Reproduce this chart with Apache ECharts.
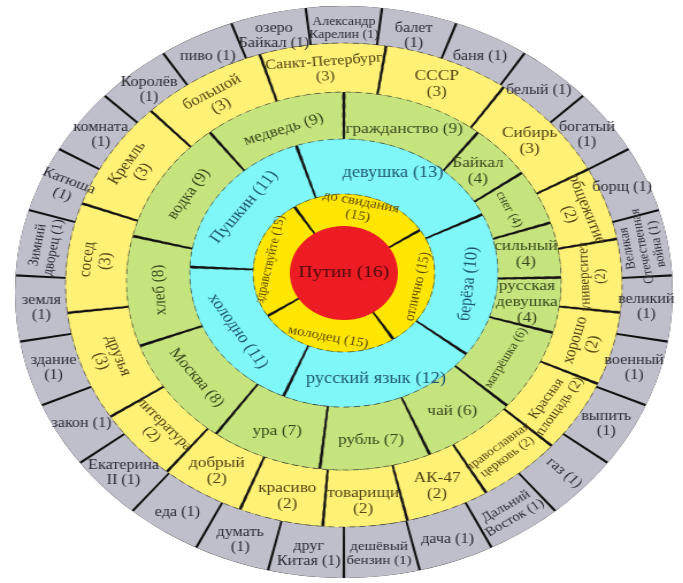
<!DOCTYPE html>
<html>
<head>
<meta charset="utf-8">
<script src="https://cdn.jsdelivr.net/npm/echarts@6.0.0/dist/echarts.min.js"></script>
<style>
  html, body { margin: 0; padding: 0; background: #fff; overflow: hidden; }
  /* исходная картинка растянута по горизонтали */
  #main { width: 594px; height: 583px; transform: scaleX(1.15); transform-origin: 0 0; }
</style>
</head>
<body>
<div id="main"></div>
<script>
// центр
const centerName = 'Путин';
const centerValue = 16;

// кольцо 1
const ring1Names = ['до свидания', 'отлично', 'молодец', 'здравствуйте'];
const ring1Values = [15, 15, 15, 15];

// кольцо 2
const ring2Names = ['девушка', 'берёза', 'русский язык', 'холодно', 'Пушкин'];
const ring2Values = [13, 10, 12, 11, 11];

// кольцо 3
const ring3Names = ['гражданство', 'Байкал', 'снег', 'сильный', 'русская\nдевушка', 'матрёшка', 'чай',
  'рубль', 'ура', 'Москва', 'хлеб', 'водка', 'медведь'];
const ring3Values = [9, 4, 4, 4, 4, 6, 6, 7, 7, 8, 8, 9, 9];

// кольцо 4
const ring4Names = ['Санкт-Петербург', 'СССР', 'Сибирь', 'общежитие', 'университет', 'хорошо',
  'Красная\nплощадь', 'православная\nцерковь', 'АК-47', 'товарищи', 'красиво', 'добрый',
  'литература', 'друзья', 'сосед', 'Кремль', 'большой'];
const ring4Values = [3, 3, 3, 2, 2, 2, 2, 2, 2, 2, 2, 2, 2, 3, 3, 3, 3];

// кольцо 5
const ring5Names = ['Александр\nКарелин', 'балет', 'баня', 'белый', 'богатый', 'борщ',
  'Великая\nОтечественная\nвойна', 'великий', 'военный', 'выпить', 'газ', 'Дальний\nВосток', 'дача',
  'дешёвый\nбензин', 'друг\nКитая', 'думать', 'еда', 'Екатерина\nII', 'закон', 'здание', 'земля',
  'Зимний\nдворец', 'Катюша', 'комната', 'Королёв', 'пиво', 'озеро\nБайкал'];
const ring5Values = [1, 1, 1, 1, 1, 1, 1, 1, 1, 1, 1, 1, 1, 1, 1, 1, 1, 1, 1, 1, 1, 1, 1, 1, 1, 1, 1];

const CX = 299;
const RAD = Math.PI / 180;

// поворот подписи: по касательной или по радиусу
function rotation(mode, compass) {
  if (mode === 'flat') return 0;
  let a = mode === 'rad' ? 90 - compass : -compass;
  while (a <= -78) a += 180;
  while (a > 102) a -= 180;
  return a;
}

function ring(names, values, opt) {
  const total = values.reduce((s, v) => s + v, 0);
  const below = opt.below || [];
  const text = (name, v) => name + (below.includes(name) ? '\n' : ' ') + '(' + v + ')';
  const rMid = (opt.radius[0] + opt.radius[1]) / 2;
  const thick = opt.radius[1] - opt.radius[0];
  let acc = 0;
  const data = names.map((name, i) => {
    const mid = 90 - opt.start + (acc + values[i] / 2) / total * 360;
    acc += values[i];
    let mode = opt.mode;
    if ((opt.flat || []).includes(name)) mode = 'flat';
    if ((opt.tan || []).includes(name)) mode = 'tan';
    if ((opt.rad || []).includes(name)) mode = 'rad';
    // чуть уменьшаем шрифт, если подпись не помещается в свой сектор
    const arc = rMid * values[i] / total * 2 * Math.PI;
    let room;
    if (mode === 'tan') room = arc * 1.15;
    else if (mode === 'rad') room = thick * 1.1;
    else room = (arc * Math.abs(Math.cos(mid * RAD)) + thick * Math.abs(Math.sin(mid * RAD))) * 1.1;
    const longest = Math.max(...text(name, values[i]).split('\n').map(s => s.length));
    let size = opt.size;
    if (longest * size * 0.52 > room) size = Math.max(12, Math.floor(room / (longest * 0.52)));
    return {
      name: name, value: values[i],
      label: { rotate: rotation(mode, mid), fontSize: size, lineHeight: size + 1 }
    };
  });
  const common = {
    type: 'pie', center: [CX, opt.cy], radius: opt.radius, startAngle: opt.start,
    avoidLabelOverlap: false, labelLine: { show: false }, emphasis: { disabled: true },
    labelLayout: { hideOverlap: false }
  };
  return [
    // чёрная подложка — видна в зазорах как разделители
    Object.assign({}, common, {
      silent: true, label: { show: false }, itemStyle: { color: '#111' },
      data: [{ name: '', value: 1 }]
    }),
    Object.assign({}, common, {
      padAngle: opt.pad,
      itemStyle: opt.dashed
        ? { color: opt.color, borderColor: 'rgba(40,40,40,0.5)', borderWidth: 1, borderType: [5, 4] }
        : { color: opt.color },
      label: {
        show: true, position: 'inside', color: opt.text,
        fontFamily: 'Liberation Serif', fontSize: opt.size, lineHeight: opt.size + 1,
        formatter: p => text(p.name, p.value)
      },
      data: data
    })
  ];
}

const series = [].concat(
  ring(ring5Names, ring5Values, {
    cy: 292, radius: [235, 286], start: 96.67, pad: 0.44, color: '#BFBFCC', text: '#2b2b33', size: 14,
    mode: 'flat', tan: ['Зимний\nдворец', 'Великая\nОтечественная\nвойна', 'Дальний\nВосток'], rad: ['Катюша', 'газ'],
    below: ['балет', 'богатый', 'великий', 'военный', 'выпить', 'думать', 'здание', 'земля', 'Катюша', 'комната', 'Королёв']
  }),
  ring(ring4Names, ring4Values, {
    cy: 285, radius: [185, 242], start: 107.6, pad: 0.54, color: '#FFF176', text: '#4f4515', size: 15,
    dashed: true, mode: 'tan', flat: ['СССР', 'Сибирь', 'АК-47', 'товарищи', 'красиво', 'добрый'],
    below: ring4Names.filter(n => n.indexOf('\n') < 0)
  }),
  ring(ring3Names, ring3Values, {
    cy: 281, radius: [126, 189], start: 90, pad: 0.73, color: '#C6E47E', text: '#37461b', size: 15,
    dashed: true, mode: 'tan', flat: ['гражданство', 'Байкал', 'сильный', 'русская\nдевушка', 'чай', 'рубль', 'ура'],
    below: ['Байкал', 'сильный', 'русская\nдевушка']
  }),
  ring(ring2Names, ring2Values, {
    cy: 273, radius: [78, 134], start: 108, pad: 1.08, color: '#7FF7F9', text: '#1f5773', size: 16,
    dashed: true, mode: 'tan', flat: ['девушка', 'русский язык']
  }),
  ring(ring1Names, ring1Values, {
    cy: 273, radius: [46, 79], start: 123, pad: 1.8, color: '#FFE600', text: '#5c4b00', size: 13,
    dashed: true, mode: 'tan', below: ['до свидания']
  }),
  [{
    type: 'pie', center: [CX, 273], radius: [0, 47], silent: true,
    itemStyle: { color: '#ED1C24' }, labelLine: { show: false },
    label: {
      show: true, position: 'center', formatter: '{b} ({c})', color: '#4a0b0b',
      fontFamily: 'Liberation Serif', fontSize: 17
    },
    data: [{ name: centerName, value: centerValue }]
  }]
);

const chart = echarts.init(document.getElementById('main'));
chart.setOption({ backgroundColor: '#fff', animation: false, series: series });
</script>
</body>
</html>
